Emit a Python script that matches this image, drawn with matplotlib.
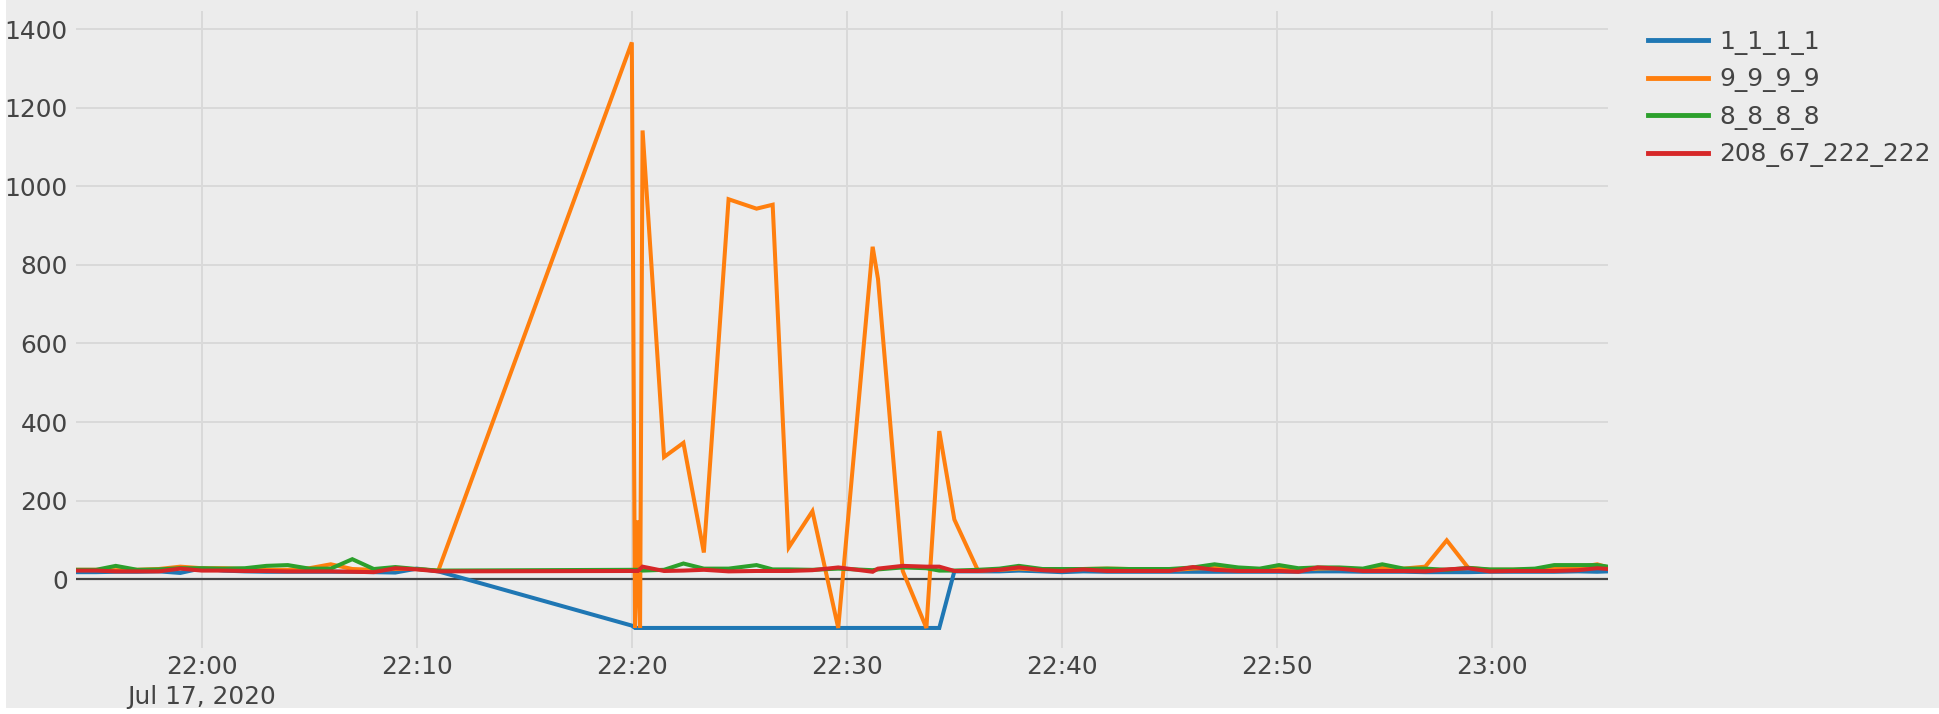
import matplotlib
matplotlib.use("Agg")
import matplotlib.pyplot as plt
import pandas as pd
from matplotlib.patches import Rectangle

# sample times (Jul 17, 2020)
times = [
    "21:54:09", "21:55:05", "21:56:00", "21:57:00", "21:58:00", "21:59:00",
    "22:00:00", "22:01:00", "22:02:00", "22:03:00", "22:04:00", "22:05:00",
    "22:06:00", "22:07:00", "22:08:00", "22:09:00", "22:10:00", "22:11:00",
    "22:20:00", "22:20:09", "22:20:17", "22:20:23", "22:20:30", "22:21:30",
    "22:22:24", "22:23:21", "22:24:30", "22:25:48", "22:26:33", "22:27:18",
    "22:28:24", "22:29:36", "22:31:12", "22:31:27", "22:32:36", "22:33:42",
    "22:34:18", "22:35:00", "22:36:06",
    "22:37:06", "22:38:00", "22:39:06", "22:40:00", "22:41:00", "22:42:06",
    "22:43:06", "22:44:00", "22:45:00", "22:46:06", "22:47:06", "22:48:12",
    "22:49:12", "22:50:06", "22:51:00", "22:51:54", "22:52:54", "22:54:00",
    "22:54:54", "22:55:54", "22:56:54", "22:57:54", "22:58:54", "22:59:54",
    "23:01:00", "23:02:00", "23:02:54", "23:04:00", "23:04:54", "23:05:24",
]

s_1_1_1_1 = [
    18, 18, 19, 19, 20, 16, 28, 22, 20, 19, 19, 19, 19, 19, 18, 17, 27, 20,
    -118, -124, -124, -124, -124, -124, -124, -124, -124, -124, -124, -124,
    -124, -124, -124, -124, -124, -124, -124, 20, 20,
    20, 22, 20, 18, 20, 19, 19, 19, 19, 19, 19, 19, 19, 19, 19, 20, 20, 19,
    19, 19, 18, 18, 18, 19, 19, 19, 19, 20, 19, 20,
]
s_9_9_9_9 = [
    24, 24, 23, 24, 26, 32, 28, 28, 26, 24, 24, 28, 38, 26, 24, 26, 26, 22,
    1366, -124, 150, -124, 1142, 311, 347, 68, 967, 943, 953, 81, 173, -124,
    846, 764, 21, -124, 377, 152, 22,
    24, 27, 24, 24, 26, 27, 26, 25, 23, 27, 29, 27, 24, 28, 24, 27, 28, 25,
    30, 27, 32, 99, 29, 24, 24, 25, 30, 30, 38, 30,
]
s_8_8_8_8 = [
    24, 24, 34, 24, 25, 28, 28, 27, 28, 34, 36, 27, 27, 51, 26, 31, 26, 22,
    24, 24, 24, 24, 22, 24, 40, 27, 27, 36, 25, 25, 24, 27, 23, 25, 30, 28,
    22, 22, 24,
    27, 34, 26, 26, 26, 27, 26, 26, 26, 30, 38, 30, 27, 36, 28, 30, 30, 27,
    38, 27, 27, 24, 29, 25, 25, 27, 36, 36, 36, 32,
]
s_208_67_222_222 = [
    22, 22, 20, 20, 20, 27, 22, 22, 21, 21, 20, 20, 20, 19, 18, 28, 25, 20,
    21, 21, 21, 26, 32, 21, 22, 24, 20, 21, 21, 21, 23, 30, 19, 27, 34, 32,
    32, 21, 21,
    24, 30, 23, 21, 25, 21, 21, 21, 21, 31, 24, 21, 21, 21, 19, 30, 27, 21,
    21, 21, 20, 25, 28, 20, 21, 21, 21, 23, 28, 26,
]

series_names = ["1_1_1_1", "9_9_9_9", "8_8_8_8", "208_67_222_222"]
series_values = [s_1_1_1_1, s_9_9_9_9, s_8_8_8_8, s_208_67_222_222]
series_colors = ["#1f77b4", "#ff7f0e", "#2ca02c", "#d62728"]

y_ticks = [0, 200, 400, 600, 800, 1000, 1200, 1400]
x_ticks = ["22:00", "22:10", "22:20", "22:30", "22:40", "22:50", "23:00"]
date_label = "Jul 17, 2020"

bg = "#ececec"
grid_color = "#d9d9d9"
text_color = "#444444"
fs = 17.9

stamps = pd.to_datetime(["2020-07-17 " + t for t in times])
tick_stamps = pd.to_datetime(["2020-07-17 " + t for t in x_ticks])

fig = plt.figure(figsize=(19.4, 7.14), dpi=100)
fig.patch.set_facecolor("white")
fig.patches.append(Rectangle((6 / 1940, 6 / 714), 1, 1, transform=fig.transFigure,
                             facecolor=bg, edgecolor="none", zorder=-10))
ax = fig.add_axes([76 / 1940, 1 - 648 / 714, (1608 - 76) / 1940, (648 - 11) / 714])
ax.set_facecolor(bg)

for name, vals, col in zip(series_names, series_values, series_colors):
    ax.plot(stamps, vals, color=col, lw=2.9, label=name, zorder=3,
            solid_joinstyle="miter")

ax.axhline(0, color=text_color, lw=1.6, zorder=2)

ax.set_xlim(stamps[0], stamps[-1])
ax.set_ylim(-175, 1446)

ax.set_yticks(y_ticks)
ax.set_yticklabels([str(v) for v in y_ticks])
ax.set_xticks(tick_stamps)
labels = [x_ticks[0] + "\n" + date_label] + x_ticks[1:]
ax.set_xticklabels(labels)
for lab in ax.get_xticklabels():
    lab.set_linespacing(1.3)

ax.tick_params(axis="both", length=0, labelsize=fs, colors=text_color)
ax.tick_params(axis="y", pad=6)
ax.tick_params(axis="x", pad=5)
ax.grid(True, color=grid_color, lw=1.4, zorder=0)
for sp in ax.spines.values():
    sp.set_visible(False)

fig.legend(loc="upper left", bbox_to_anchor=(1648 / 1940, 1 - 30 / 714),
           frameon=False, fontsize=fs, handlelength=2.42, handletextpad=0.44,
           labelspacing=0.5, labelcolor=text_color, borderaxespad=0, borderpad=0)
for line in fig.legends[0].get_lines():
    line.set_linewidth(3.5)

fig.savefig("out.png", dpi=100, facecolor=fig.get_facecolor())
